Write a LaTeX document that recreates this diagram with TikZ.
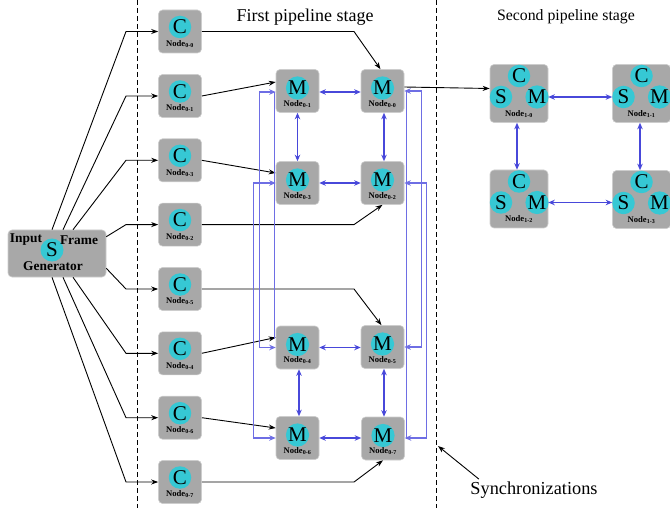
\documentclass[tikz,border=0pt]{standalone}
\usepackage{fontspec}
\setmainfont{Liberation Serif}
\usetikzlibrary{arrows.meta,calc}
\definecolor{boxgray}{RGB}{168,168,168}
\definecolor{boxedge}{RGB}{205,205,205}
\definecolor{cyanc}{RGB}{54,200,212}
\definecolor{blueA}{RGB}{72,72,218}
\definecolor{blueB}{RGB}{110,110,228}
\tikzset{
  gbox/.style={draw=boxedge, fill=boxgray, line width=0.6pt, rounded corners=4pt, minimum width=43pt, minimum height=43pt, inner sep=0pt},
  bigbox/.style={gbox, minimum width=58pt, minimum height=58pt},
  circ/.style={circle, fill=cyanc, minimum size=22.5pt, inner sep=0pt, font=\fontsize{21}{21}\selectfont},
  lab/.style={inner sep=0pt, font=\fontsize{8.6}{9}\selectfont\bfseries},
  blk/.style={black, line width=0.9pt, -{Stealth[length=7pt,width=5pt]}},
  bsh/.style={blueA, line width=1.4pt, {Stealth[length=6.5pt,width=5.5pt]}-{Stealth[length=6.5pt,width=5.5pt]}},
  broute/.style={blueB, line width=1.3pt, {Stealth[length=6.5pt,width=5.5pt]}-{Stealth[length=6.5pt,width=5.5pt]}},
  bline/.style={blueB, line width=1.4pt},
  dashline/.style={black, line width=0.9pt, dash pattern=on 5pt off 3pt},
}
\newcommand\cnodeX[4]{%
  \node[gbox] (#1) at (#2,#3) {};
  \node[circ] (#1c) at ($(#1)+(0,-4.5)$) {C};
  \node[lab] (#1l) at ($(#1)+(0,12.5)$) {Node\textsubscript{#4}};
}
\newcommand\mnodeX[4]{%
  \node[gbox] (#1) at (#2,#3) {};
  \node[circ] (#1c) at ($(#1)+(0,-3)$) {M};
  \node[lab] (#1l) at ($(#1)+(0,13)$) {Node\textsubscript{#4}};
}
\newcommand\snodeX[4]{%
  \node[bigbox] (#1) at (#2,#3) {};
  \node[circ] (#1c) at ($(#1)+(0,-17.5)$) {C};
  \node[circ] (#1s) at ($(#1)+(-18,3.5)$) {S};
  \node[circ] (#1m) at ($(#1)+(18,3.5)$) {M};
  \node[lab] (#1l) at ($(#1)+(0,20.5)$) {Node\textsubscript{#4}};
}
\begin{document}
\begin{tikzpicture}[x=1pt,y=-1pt]
\useasboundingbox (0,0) rectangle (670,508);

% dashed sync lines
\coordinate (d1t) at (137,0); \coordinate (d1b) at (137,508);
\coordinate (d2t) at (436,0); \coordinate (d2b) at (436,508);
\draw[dashline] (d1t) -- (d1b);
\draw[dashline] (d2t) -- (d2b);

% titles
\node[font=\fontsize{18}{19}\selectfont] (t1) at (305,17) {First pipeline stage};
\node[font=\fontsize{15.8}{17}\selectfont] (t2) at (566,17) {Second pipeline stage};
\node[font=\fontsize{18.3}{19}\selectfont] (sync) at (534,490) {Synchronizations};
\coordinate (syncpt) at (438,446);
\draw[blk] ($(sync.north west)+(12,1)$) -- (syncpt);

% generator
\node[gbox, minimum width=98pt, minimum height=47pt] (gen) at (57,253.5) {};
\node[circ, minimum size=23pt] (genc) at (52,250) {S};
\node[inner sep=0pt, font=\fontsize{13.4}{14}\selectfont\bfseries] (gin) at (26,240) {Input};
\node[inner sep=0pt, font=\fontsize{13.4}{14}\selectfont\bfseries] (gfr) at (79,240) {Frame};
\node[inner sep=0pt, font=\fontsize{13.4}{14}\selectfont\bfseries] (gge) at (53,266) {Generator};

% C nodes
\cnodeX{c00}{180}{31.5}{0-0}
\cnodeX{c01}{180}{96}{0-1}
\cnodeX{c03}{180}{160.3}{0-3}
\cnodeX{c02}{180}{224.6}{0-2}
\cnodeX{c05}{180}{289}{0-5}
\cnodeX{c04}{180}{353.3}{0-4}
\cnodeX{c06}{180}{417.7}{0-6}
\cnodeX{c07}{180}{482}{0-7}

% M nodes
\mnodeX{m01}{297.5}{91}{0-1}
\mnodeX{m00}{382.5}{91}{0-0}
\mnodeX{m03}{297.5}{183}{0-3}
\mnodeX{m02}{382.5}{183}{0-2}
\mnodeX{m04}{297.5}{347.5}{0-4}
\mnodeX{m05}{382.5}{347}{0-5}
\mnodeX{m06}{297.5}{438}{0-6}
\mnodeX{m07}{383}{438.5}{0-7}

% second stage nodes
\snodeX{n10}{519}{93.5}{1-0}
\snodeX{n11}{641.5}{93.5}{1-1}
\snodeX{n12}{519}{199}{1-2}
\snodeX{n13}{641.5}{199.5}{1-3}

% generator -> C nodes
\draw[blk] ($(gen.north)+(-5,0)$) -- (126,31.5) -- (c00.west);
\draw[blk] ($(gen.north)+(6,0)$) -- (126,96) -- (c01.west);
\draw[blk] ($(gen.north)+(16,0)$) -- (126,160.3) -- (c03.west);
\draw[blk] ($(gen.north east)+(0,7)$) -- (126,224.6) -- (c02.west);
\draw[blk] ($(gen.south east)+(0,-9)$) -- (126,289) -- (c05.west);
\draw[blk] ($(gen.south)+(16,0)$) -- (126,353.3) -- (c04.west);
\draw[blk] ($(gen.south)+(6,0)$) -- (126,417.7) -- (c06.west);
\draw[blk] ($(gen.south)+(-5,0)$) -- (126,482) -- (c07.west);

% C -> M
\draw[blk] (c00.east) -- (354,31.5) -- ($(m00.north)+(-2,0)$);
\draw[blk] (c01.east) -- ($(m01.west)+(0,-9)$);
\draw[blk] (c03.east) -- ($(m03.west)+(0,-10)$);
\draw[blk] (c02.east) -- (354,224.6) -- ($(m02.south)+(0,0)$);
\draw[blk] (c05.east) -- (354,289) -- ($(m05.north)+(-1,0)$);
\draw[blk] (c04.east) -- ($(m04.west)+(0,-10)$);
\draw[blk] (c06.east) -- ($(m06.west)+(0,-10)$);
\draw[blk] (c07.east) -- (354,482) -- ($(m07.south)+(0,0)$);

% M0-0 -> Node1-0
\draw[blk] ($(m00.east)+(0,-4)$) -- ($(n10.west)+(0,-5)$);

% blue routes, left
\draw[bline] ($(m01.west)+(-1.5,1)$) -- ($(m04.west)+(-1.5,-9)$);
\draw[broute] ($(m01.west)+(0,1)$) -- ++(-16,0) |- (m04.west);
\draw[broute] (m03.west) -- ++(-22,0) |- (m06.west);
% blue routes, right
\draw[bline] ($(m00.east)+(2,0)$) -- ($(m07.east)+(1.5,0)$);
\draw[broute] (m00.east) -- ++(17,0) |- (m05.east);
\draw[broute] (m02.east) -- ++(22,0) |- ($(m07.east)+(0,-0.5)$);

% blue short arrows between M nodes
\draw[bsh] ($(m01.east)+(0,1)$) -- ($(m00.west)+(0,1)$);
\draw[bsh] (m03.east) -- (m02.west);
\draw[bsh] (m04.east) -- ($(m05.west)+(0,0.5)$);
\draw[bsh] (m06.east) -- ($(m07.west)+(0,-0.5)$);
\draw[bsh] (m01.south) -- (m03.north);
\draw[bsh] ($(m00.south)+(1.5,0)$) -- ($(m02.north)+(1.5,0)$);
\draw[bsh] ($(m04.south)+(1.5,0)$) -- ($(m06.north)+(1.5,0)$);
\draw[bsh] ($(m05.south)+(1.5,0)$) -- ($(m07.north)+(1,0)$);

% second stage arrows
\draw[bsh] ($(n10.east)+(0,3.5)$) -- ($(n11.west)+(0,3.5)$);
\draw[bsh] ($(n12.east)+(0,3.5)$) -- ($(n13.west)+(0,3)$);
\draw[bsh] ($(n10.south)+(-2,0)$) -- ($(n12.north)+(-2,0)$);
\draw[bsh] ($(n11.south)+(-1.5,0)$) -- ($(n13.north)+(-1.5,0)$);
\end{tikzpicture}
\end{document}
